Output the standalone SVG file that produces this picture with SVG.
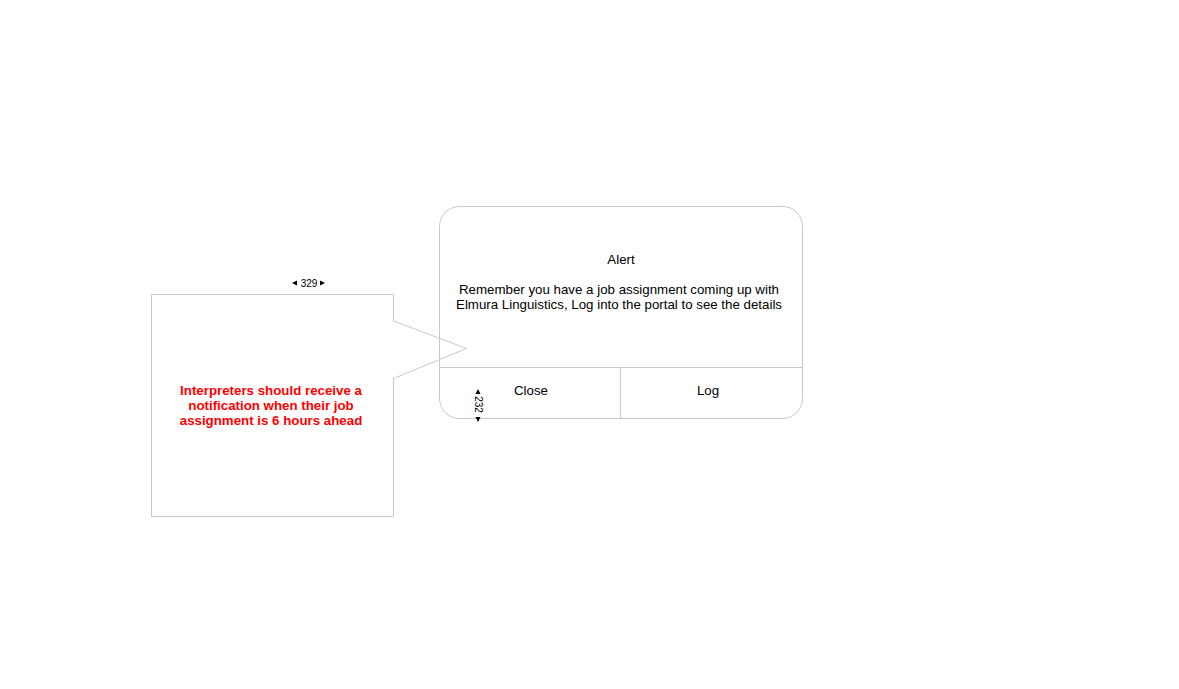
<svg xmlns="http://www.w3.org/2000/svg" width="1179" height="689" viewBox="0 0 1179 689">
<style>
.ln{fill:none;stroke:#c8c8c8;stroke-width:1}
.t{font-family:"Liberation Sans",Arial,sans-serif;font-size:13.3px;fill:#000}
.r{font-family:"Liberation Sans",Arial,sans-serif;font-size:13.3px;font-weight:bold;fill:#ff0000}
.s{font-family:"Liberation Sans",Arial,sans-serif;font-size:10px;fill:#000}
</style>
<rect width="1179" height="689" fill="#fff"/>
<g id="alert">
<rect class="ln" x="439.5" y="206.5" width="363" height="212" rx="20" ry="20"/>
<line class="ln" x1="439.5" y1="367.5" x2="802.5" y2="367.5"/>
<line class="ln" x1="620.5" y1="367.5" x2="620.5" y2="418.5"/>
<text class="t" x="621" y="264" text-anchor="middle">Alert</text>
<text class="t" x="619" y="294" text-anchor="middle">Remember you have a job assignment coming up with</text>
<text class="t" x="619" y="309" text-anchor="middle">Elmura Linguistics, Log into the portal to see the details</text>
<text class="t" x="531" y="395" text-anchor="middle">Close</text>
<text class="t" x="708" y="395" text-anchor="middle">Log</text>
</g>
<g id="callout">
<path class="ln" d="M151.5 294.5 H393.5 V321 L466.5 348.5 L393.5 378.5 V516.5 H151.5 Z" fill="#fff"/>
<text class="r" x="271" y="395" text-anchor="middle">Interpreters should receive a</text>
<text class="r" x="271" y="410" text-anchor="middle">notification when their job</text>
<text class="r" x="271" y="425" text-anchor="middle">assignment is 6 hours ahead</text>
</g>
<g id="dim-width">
<path d="M292 283 L297 280.5 L297 285.5 Z" fill="#000"/>
<text class="s" x="309" y="286.5" text-anchor="middle">329</text>
<path d="M325 283 L320 280.5 L320 285.5 Z" fill="#000"/>
</g>
<g id="dim-height">
<path d="M478 389 L475.5 394 L480.5 394 Z" fill="#000"/>
<text class="s" transform="translate(475 404.5) rotate(90)" text-anchor="middle">232</text>
<path d="M478 422 L475.5 417 L480.5 417 Z" fill="#000"/>
</g>
<g id="connectors"></g>
</svg>
